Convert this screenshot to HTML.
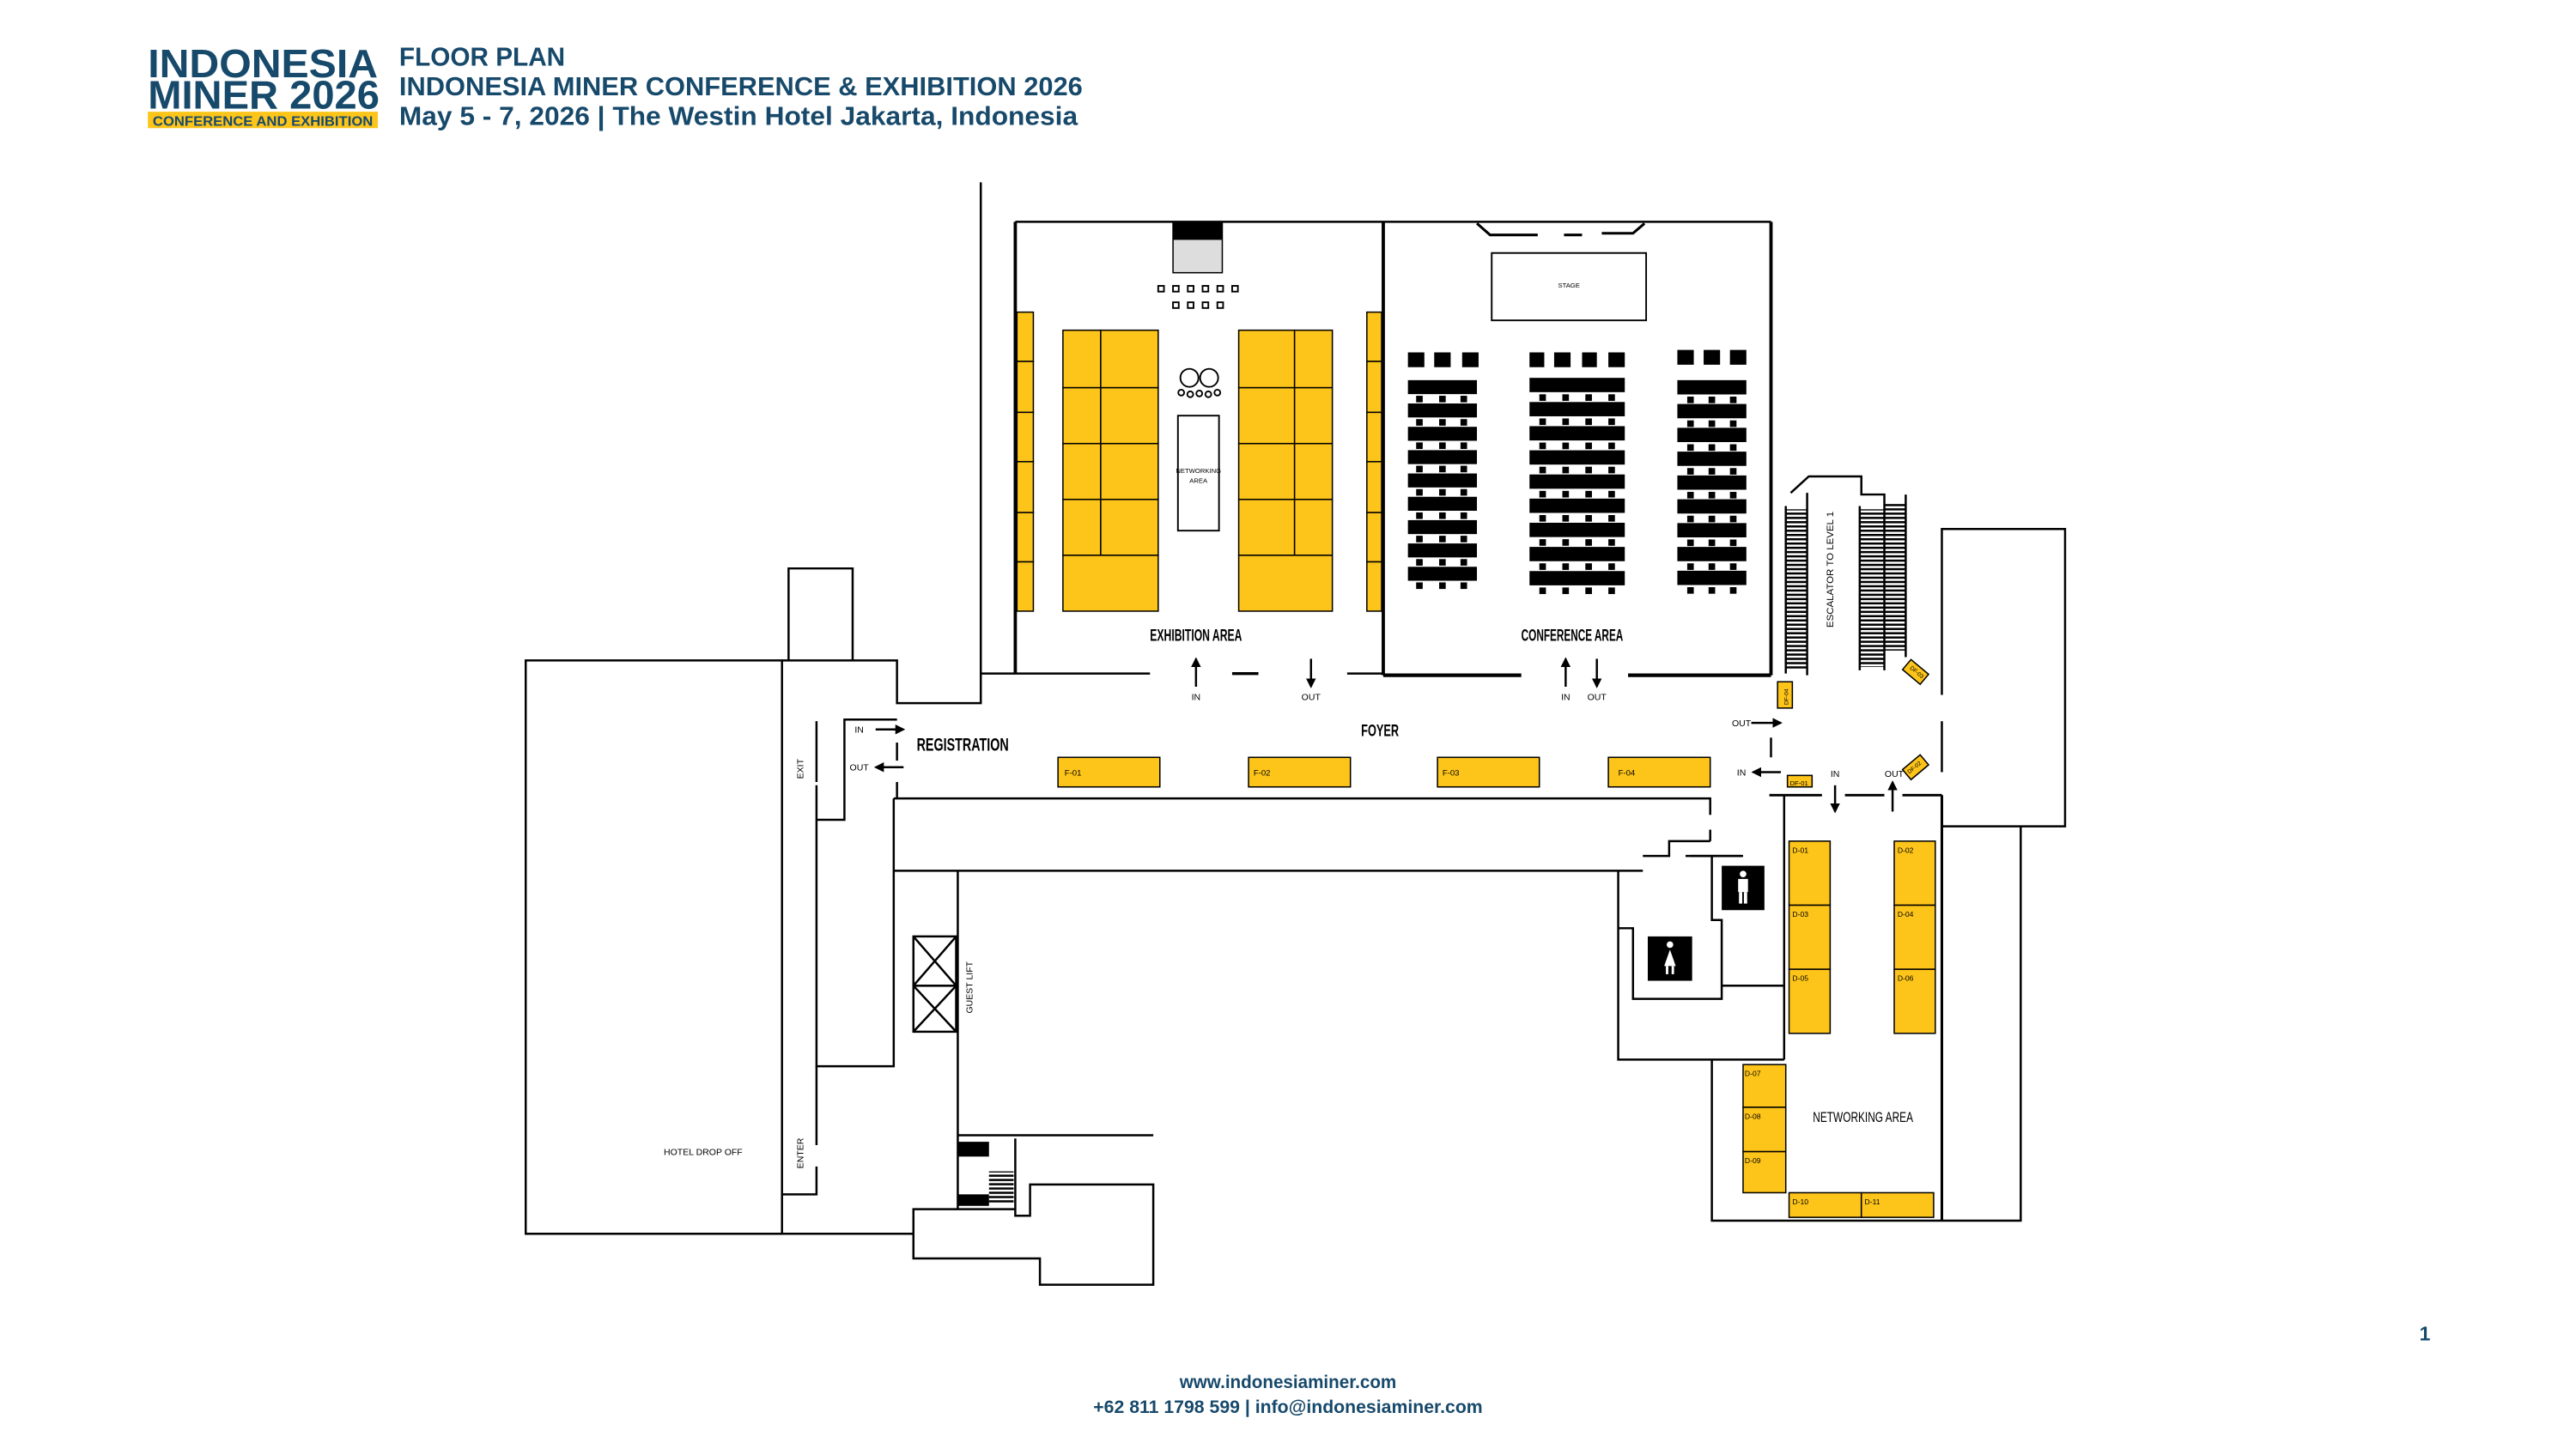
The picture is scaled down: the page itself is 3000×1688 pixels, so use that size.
<!DOCTYPE html>
<html><head><meta charset="utf-8"><style>
html,body{margin:0;padding:0;background:#fff;}
svg{display:block;}
.n{font-family:"Liberation Sans Narrow","Liberation Sans",sans-serif;fill:#000;}
.h{font-family:"Liberation Sans",sans-serif;font-weight:bold;fill:#17496b;}
</style></head><body>
<svg width="3000" height="1688" viewBox="0 0 1568 882" preserveAspectRatio="none" xmlns="http://www.w3.org/2000/svg">
<defs>
<pattern id="rung" width="4" height="2.6" patternUnits="userSpaceOnUse"><rect width="4" height="1.3" fill="#000"/></pattern>
<g id="t1"><rect x="857" y="0" width="42" height="8.5" fill="#000"/><rect x="862" y="9.5" width="4" height="4"/><rect x="876" y="9.5" width="4" height="4"/><rect x="889" y="9.5" width="4" height="4"/></g>
<g id="t2"><rect x="931" y="0" width="58" height="8.7" fill="#000"/><rect x="937" y="10" width="4" height="4"/><rect x="951" y="10" width="4" height="4"/><rect x="965" y="10" width="4" height="4"/><rect x="979" y="10" width="4" height="4"/></g>
<g id="t3"><rect x="1021" y="0" width="42" height="8.7" fill="#000"/><rect x="1027" y="10" width="4" height="4"/><rect x="1040" y="10" width="4" height="4"/><rect x="1053" y="10" width="4" height="4"/></g>
<marker id="ah" markerWidth="6" markerHeight="6" refX="5" refY="3" orient="auto" markerUnits="userSpaceOnUse"><path d="M0,0 L6,3 L0,6 z" fill="#000"/></marker>
</defs>

<!-- Header -->
<text class="h" x="90" y="47" font-size="24" textLength="140" lengthAdjust="spacingAndGlyphs">INDONESIA</text>
<text class="h" x="90" y="66" font-size="24" textLength="141" lengthAdjust="spacingAndGlyphs">MINER 2026</text>
<rect x="90" y="68" width="140" height="10" fill="#fdc41a"/>
<text class="h" x="93" y="76.5" font-size="8" textLength="134" lengthAdjust="spacingAndGlyphs">CONFERENCE AND EXHIBITION</text>
<text class="h" x="243" y="40" font-size="16" textLength="101" lengthAdjust="spacingAndGlyphs">FLOOR PLAN</text>
<text class="h" x="243" y="58" font-size="16" textLength="416" lengthAdjust="spacingAndGlyphs">INDONESIA MINER CONFERENCE &amp; EXHIBITION 2026</text>
<text class="h" x="243" y="76" font-size="16" textLength="413" lengthAdjust="spacingAndGlyphs">May 5 - 7, 2026 | The Westin Hotel Jakarta, Indonesia</text>

<!-- Footer -->
<text class="h" x="784" y="845" font-size="11" text-anchor="middle" textLength="132" lengthAdjust="spacingAndGlyphs">www.indonesiaminer.com</text>
<text class="h" x="784" y="860" font-size="11" text-anchor="middle" textLength="237" lengthAdjust="spacingAndGlyphs">+62 811 1798 599 | info@indonesiaminer.com</text>
<text class="h" x="1476" y="816" font-size="12" text-anchor="middle">1</text>

<g fill="none" stroke="#000" stroke-width="1.3">
<!-- top-left walls -->
<polyline points="597,111 597,428 546,428 546,402 476,402"/>
<line x1="597" y1="410" x2="700" y2="410"/>
<line x1="750" y1="410" x2="766" y2="410" stroke-width="1.8"/>
<line x1="820" y1="410" x2="842" y2="410"/>
<!-- exhibition -->
<line x1="618" y1="135" x2="618" y2="410" stroke-width="2"/>
<line x1="618" y1="135" x2="1078" y2="135"/>
<line x1="842" y1="135" x2="842" y2="411" stroke-width="2"/>
<line x1="842" y1="411" x2="926" y2="411" stroke-width="2.2"/>
<line x1="991" y1="411" x2="1078" y2="411" stroke-width="2.2"/>
<line x1="1078" y1="135" x2="1078" y2="411" stroke-width="2"/>
<polyline points="899,136 907,143 936,143" stroke-width="1.6"/>
<line x1="952" y1="143" x2="963" y2="143" stroke-width="1.6"/>
<polyline points="975,142 994,142 1001,136" stroke-width="1.6"/>
<rect x="908" y="154" width="94" height="41" stroke-width="1"/>
<!-- left building -->
<rect x="320" y="402" width="156" height="349"/>
<polyline points="480,402 480,346 519,346 519,402"/>
<polyline points="497,439 497,476"/>
<polyline points="497,478 497,649 544,649 544,486"/>
<polyline points="546,452 546,463"/><polyline points="546,476 546,486"/>
<polyline points="546,438 514,438 514,499 497,499"/>
<polyline points="497,649 497,697"/><polyline points="497,710 497,727 476,727"/>
<polyline points="320,751 556,751"/>
<polyline points="544,486 1041,486 1041,496"/><line x1="1041" y1="505" x2="1041" y2="512"/>
<polyline points="544,530 1000,530"/>
<polyline points="1000,521 1016,521 1016,512 1041,512"/>
<line x1="1026" y1="521" x2="1060" y2="521"/>
<!-- lift & stair -->
<polyline points="583,530 583,736"/>
<rect x="556" y="570" width="26" height="30"/><rect x="556" y="600" width="26" height="28"/>
<path d="M556,570 L582,600 M582,570 L556,600 M556,600 L582,628 M582,600 L556,628"/>
<line x1="583" y1="691" x2="702" y2="691"/>
<polyline points="618,693 618,740 627,740 627,721 702,721 702,782 633,782 633,766 556,766 556,736 618,736"/>
<!-- washrooms -->
<polyline points="1029,521 1061,521"/>
<polyline points="1042,521 1042,560 1048,560 1048,608 994,608 994,565 985,565"/>
<polyline points="985,530 985,645 1086,645"/>
<polyline points="1048,600 1086,600"/>
<polyline points="1086,484 1086,645"/>
<!-- D area -->
<line x1="1077" y1="484" x2="1109" y2="484" stroke-width="1.5"/>
<line x1="1123" y1="484" x2="1147" y2="484" stroke-width="1.5"/>
<line x1="1158" y1="484" x2="1182" y2="484" stroke-width="1.5"/>
<polyline points="1042,645 1042,743 1230,743 1230,503"/>
<line x1="1182" y1="484" x2="1182" y2="743" stroke-width="1.6"/>
<rect x="1182" y="322" width="75" height="181" stroke="none"/>
<polyline points="1182,423 1182,322 1257,322 1257,503 1182,503"/>
<line x1="1182" y1="439" x2="1182" y2="470"/>
<line x1="1078" y1="449" x2="1078" y2="461"/>
<!-- escalator outline -->
<polyline points="1090,300 1101,290 1133,290 1133,301 1147,301 1147,408"/>
<line x1="1087" y1="308" x2="1087" y2="410"/><line x1="1100" y1="300" x2="1100" y2="411"/>
<line x1="1132" y1="308" x2="1132" y2="408"/><line x1="1160" y1="301" x2="1160" y2="400"/>
</g>
<rect x="1087" y="310" width="13" height="98" fill="url(#rung)"/>
<rect x="1132" y="310" width="15" height="96" fill="url(#rung)"/>
<rect x="1147" y="306" width="13" height="90" fill="url(#rung)"/>
<text class="n" font-size="6" transform="translate(1116,382) rotate(-90)">ESCALATOR TO LEVEL 1</text>

<!-- exhibition contents -->
<rect x="714" y="136" width="30" height="30" fill="#ddd" stroke="#000" stroke-width="0.8"/>
<rect x="714" y="136" width="30" height="10" fill="#000"/>
<g fill="none" stroke="#000" stroke-width="1">
<rect x="705" y="174" width="3.5" height="3.5"/><rect x="714" y="174" width="3.5" height="3.5"/><rect x="723" y="174" width="3.5" height="3.5"/><rect x="732" y="174" width="3.5" height="3.5"/><rect x="741" y="174" width="3.5" height="3.5"/><rect x="750" y="174" width="3.5" height="3.5"/>
<rect x="714" y="184" width="3.5" height="3.5"/><rect x="723" y="184" width="3.5" height="3.5"/><rect x="732" y="184" width="3.5" height="3.5"/><rect x="741" y="184" width="3.5" height="3.5"/>
<circle cx="724" cy="230" r="5.5"/><circle cx="736" cy="230" r="5.5"/>
<circle cx="719" cy="239" r="1.8"/><circle cx="724.5" cy="240" r="1.8"/><circle cx="730" cy="239.5" r="1.8"/><circle cx="735.5" cy="240" r="1.8"/><circle cx="741" cy="239" r="1.8"/>
<rect x="717" y="253" width="25" height="70"/>
</g>
<text class="n" x="729.5" y="288" font-size="4" text-anchor="middle">NETWORKING</text>
<text class="n" x="729.5" y="294" font-size="4" text-anchor="middle">AREA</text>
<text class="n" x="955" y="175" font-size="4" text-anchor="middle">STAGE</text>

<g fill="#fdc41a" stroke="#000" stroke-width="0.8">
<rect x="619" y="190" width="10" height="30"/><rect x="619" y="220" width="10" height="31"/><rect x="619" y="251" width="10" height="30"/><rect x="619" y="281" width="10" height="31"/><rect x="619" y="312" width="10" height="30"/><rect x="619" y="342" width="10" height="30"/>
<rect x="832" y="190" width="9" height="30"/><rect x="832" y="220" width="9" height="31"/><rect x="832" y="251" width="9" height="30"/><rect x="832" y="281" width="9" height="31"/><rect x="832" y="312" width="9" height="30"/><rect x="832" y="342" width="9" height="30"/>
<rect x="647" y="201" width="23" height="35"/><rect x="670" y="201" width="35" height="35"/>
<rect x="647" y="236" width="23" height="34"/><rect x="670" y="236" width="35" height="34"/>
<rect x="647" y="270" width="23" height="34"/><rect x="670" y="270" width="35" height="34"/>
<rect x="647" y="304" width="23" height="34"/><rect x="670" y="304" width="35" height="34"/>
<rect x="647" y="338" width="58" height="34"/>
<rect x="754" y="201" width="34" height="35"/><rect x="788" y="201" width="23" height="35"/>
<rect x="754" y="236" width="34" height="34"/><rect x="788" y="236" width="23" height="34"/>
<rect x="754" y="270" width="34" height="34"/><rect x="788" y="270" width="23" height="34"/>
<rect x="754" y="304" width="34" height="34"/><rect x="788" y="304" width="23" height="34"/>
<rect x="754" y="338" width="57" height="34"/>
<!-- foyer -->
<rect x="644" y="461" width="62" height="18"/><rect x="760" y="461" width="62" height="18"/><rect x="875" y="461" width="62" height="18"/><rect x="979" y="461" width="62" height="18"/>
<!-- D booths -->
<rect x="1089" y="512" width="25" height="39"/><rect x="1089" y="551" width="25" height="39"/><rect x="1089" y="590" width="25" height="39"/>
<rect x="1153" y="512" width="25" height="39"/><rect x="1153" y="551" width="25" height="39"/><rect x="1153" y="590" width="25" height="39"/>
<rect x="1061" y="648" width="26" height="26"/><rect x="1061" y="674" width="26" height="27"/><rect x="1061" y="701" width="26" height="25"/>
<rect x="1089" y="726" width="44" height="15"/><rect x="1133" y="726" width="44" height="15"/>
<rect x="1082" y="415" width="9" height="16"/>
<rect x="1088" y="472" width="15" height="7"/>
<rect x="-7" y="-4" width="14" height="8" transform="translate(1166,409) rotate(40)"/>
<rect x="-7" y="-4" width="14" height="8" transform="translate(1166,467) rotate(-40)"/>
</g>
<g class="n" font-size="5">
<text x="648" y="472">F-01</text><text x="763" y="472">F-02</text><text x="878" y="472">F-03</text><text x="985" y="472">F-04</text>
<text x="1091" y="519" font-size="4.5">D-01</text><text x="1091" y="558" font-size="4.5">D-03</text><text x="1091" y="597" font-size="4.5">D-05</text>
<text x="1155" y="519" font-size="4.5">D-02</text><text x="1155" y="558" font-size="4.5">D-04</text><text x="1155" y="597" font-size="4.5">D-06</text>
<text x="1062" y="655" font-size="4.5">D-07</text><text x="1062" y="681" font-size="4.5">D-08</text><text x="1062" y="708" font-size="4.5">D-09</text>
<text x="1091" y="733" font-size="4.5">D-10</text><text x="1135" y="733" font-size="4.5">D-11</text>
<text x="1089.5" y="478" font-size="4">DF-01</text>
<text font-size="3.5" transform="translate(1088.5,429) rotate(-90)">DF-04</text>
<text font-size="3.5" text-anchor="middle" transform="translate(1166,410) rotate(40)">DF-03</text>
<text font-size="3.5" text-anchor="middle" transform="translate(1166,468) rotate(-40)">DF-02</text>
</g>

<!-- conference seating -->
<g fill="#000">
<rect x="857" y="214.5" width="10" height="9"/><rect x="873" y="214.5" width="10" height="9"/><rect x="890" y="214.5" width="10" height="9"/>
<rect x="931" y="214.5" width="9" height="9"/><rect x="946" y="214.5" width="10" height="9"/><rect x="963" y="214.5" width="9" height="9"/><rect x="979" y="214.5" width="10" height="9"/>
<rect x="1021" y="213" width="10" height="9"/><rect x="1037" y="213" width="10" height="9"/><rect x="1053" y="213" width="10" height="9"/>
<use href="#t1" y="231.4"/><use href="#t1" y="245.6"/><use href="#t1" y="259.8"/><use href="#t1" y="274"/><use href="#t1" y="288.2"/><use href="#t1" y="302.4"/><use href="#t1" y="316.6"/><use href="#t1" y="330.8"/><use href="#t1" y="345"/>
<use href="#t2" y="230"/><use href="#t2" y="244.7"/><use href="#t2" y="259.4"/><use href="#t2" y="274.1"/><use href="#t2" y="288.8"/><use href="#t2" y="303.5"/><use href="#t2" y="318.2"/><use href="#t2" y="332.9"/><use href="#t2" y="347.6"/>
<use href="#t3" y="231.4"/><use href="#t3" y="245.9"/><use href="#t3" y="260.4"/><use href="#t3" y="274.9"/><use href="#t3" y="289.4"/><use href="#t3" y="303.9"/><use href="#t3" y="318.4"/><use href="#t3" y="332.9"/><use href="#t3" y="347.4"/>
</g>

<!-- washroom icons -->
<rect x="1048" y="527" width="26" height="27" fill="#000"/>
<g fill="#fff"><circle cx="1061" cy="532" r="2"/><rect x="1058" y="535" width="6" height="8"/><rect x="1058.5" y="543" width="2" height="7"/><rect x="1061.5" y="543" width="2" height="7"/></g>
<rect x="1003" y="570" width="27" height="27" fill="#000"/>
<g fill="#fff"><circle cx="1016.5" cy="575" r="2"/><path d="M1016.5,578 L1020,588 L1013,588 Z"/><rect x="1014" y="588" width="1.5" height="5"/><rect x="1017.5" y="588" width="1.5" height="5"/></g>

<!-- arrows -->
<g stroke="#000" stroke-width="1.3" marker-end="url(#ah)">
<line x1="728" y1="418" x2="728" y2="401"/>
<line x1="798" y1="401" x2="798" y2="418"/>
<line x1="953" y1="418" x2="953" y2="401"/>
<line x1="972" y1="401" x2="972" y2="418"/>
<line x1="1066" y1="440" x2="1084" y2="440"/>
<line x1="1084" y1="470" x2="1067" y2="470"/>
<line x1="1117" y1="478" x2="1117" y2="494"/>
<line x1="1152" y1="494" x2="1152" y2="476"/>
<line x1="533" y1="444" x2="550" y2="444"/>
<line x1="550" y1="467" x2="533" y2="467"/>
</g>

<!-- labels -->
<g class="n" font-weight="bold">
<text x="728" y="390" font-size="10" text-anchor="middle" textLength="56" lengthAdjust="spacingAndGlyphs">EXHIBITION AREA</text>
<text x="957" y="390" font-size="10" text-anchor="middle" textLength="62" lengthAdjust="spacingAndGlyphs">CONFERENCE AREA</text>
<text x="840" y="448" font-size="10" text-anchor="middle" textLength="23" lengthAdjust="spacingAndGlyphs">FOYER</text>
<text x="558" y="457" font-size="11" textLength="56" lengthAdjust="spacingAndGlyphs">REGISTRATION</text>
</g>
<g class="n" font-size="5.5" text-anchor="middle">
<text x="728" y="426">IN</text><text x="798" y="426">OUT</text>
<text x="953" y="426">IN</text><text x="972" y="426">OUT</text>
<text x="1060" y="442">OUT</text><text x="1060" y="472">IN</text>
<text x="1117" y="473">IN</text><text x="1153" y="473">OUT</text>
<text x="523" y="446">IN</text><text x="523" y="469">OUT</text>
<text x="428" y="703">HOTEL DROP OFF</text>
<text transform="translate(489,468) rotate(-90)">EXIT</text>
<text transform="translate(489,702) rotate(-90)">ENTER</text>
<text transform="translate(592,601) rotate(-90)">GUEST LIFT</text>
</g>
<text class="n" x="1134" y="683" font-size="8.5" text-anchor="middle" textLength="61" lengthAdjust="spacingAndGlyphs">NETWORKING AREA</text>

<!-- stair blocks -->
<rect x="583" y="695" width="19" height="9" fill="#000"/>
<rect x="583" y="727" width="19" height="7" fill="#000"/>
<rect x="602" y="713" width="15" height="20" fill="url(#rung)"/>
</svg>
</body></html>
